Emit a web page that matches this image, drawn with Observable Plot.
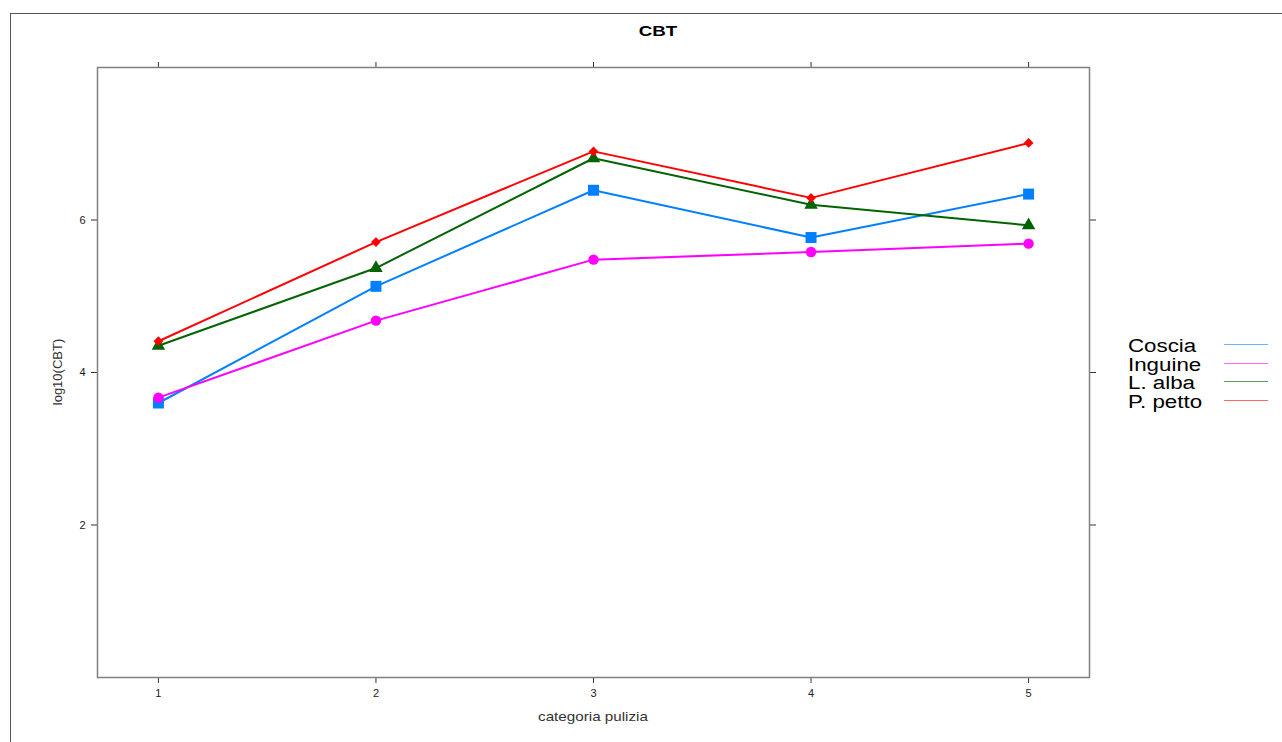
<!DOCTYPE html>
<html>
<head>
<meta charset="utf-8">
<script src="https://cdn.jsdelivr.net/npm/d3@7"></script>
<script src="https://cdn.jsdelivr.net/npm/@observablehq/plot@0.6"></script>
<style>
  html, body { margin: 0; padding: 0; background: #fff; overflow: hidden; }
  #wrap { position: relative; width: 1282px; height: 742px; font-family: "Liberation Sans", Arial, sans-serif; }
  #border { position: absolute; left: 10px; top: 13px; width: 1400px; height: 900px; border: 1.5px solid #555; box-sizing: border-box; }
  #title { position: absolute; left: 558px; width: 200px; top: 22px; text-align: center; font-weight: bold; font-size: 15px; color: #000; transform: scaleX(1.25); }
  #xlab { position: absolute; left: 493px; width: 200px; top: 709px; text-align: center; font-size: 13px; color: #333; transform: scaleX(1.17); }
  #ylab { position: absolute; left: 57px; top: 372px; font-size: 13px; color: #333; transform: translate(-50%, -50%) rotate(-90deg); white-space: nowrap; }
  #legend { position: absolute; left: 1128px; top: 337px; font-size: 18px; line-height: 18.7px; color: #000; }
  #legend .row { height: 18.7px; white-space: nowrap; transform: scaleX(1.24); transform-origin: left center; }
  .sw { position: absolute; left: 1224px; width: 44px; height: 1px; }
  #chart { position: absolute; left: 0; top: 0; }
</style>
</head>
<body>
<div id="wrap">
  <div id="border"></div>
  <div id="chart"></div>
  <div id="title">CBT</div>
  <div id="xlab">categoria pulizia</div>
  <div id="ylab">log10(CBT)</div>
  <div id="legend"></div>
</div>
<script>
const categories = [1, 2, 3, 4, 5];
const seriesNames = ["Coscia", "Inguine", "L. alba", "P. petto"];
const coscia = [3.60, 5.13, 6.39, 5.77, 6.34];
const inguine = [3.67, 4.68, 5.48, 5.58, 5.69];
const lAlba = [4.35, 5.37, 6.81, 6.20, 5.93];
const pPetto = [4.41, 5.71, 6.90, 6.29, 7.01];
const seriesColors = ["#0080ff", "#ff00ff", "#006400", "#ff0000"];
const legendColors = ["#6ab4ff", "#ff66ff", "#5a9a5a", "#ff6666"];
const seriesSymbols = ["square", "circle", "triangle", "diamond2"];
const seriesR = [6.2, 5.2, 5.0, 4.4];
const yTicks = [2, 4, 6];

const values = [coscia, inguine, lAlba, pPetto];
const rows = [];
seriesNames.forEach((s, i) => categories.forEach((c, j) => rows.push({series: s, cat: c, val: values[i][j]})));

const fmt = d3.format("d");
const marks = [
  Plot.axisX({anchor: "bottom", ticks: categories, tickSize: 6, tickPadding: 6, fontSize: 11, tickFormat: fmt, label: null, stroke: "#333", color: "#222"}),
  Plot.axisX({anchor: "top", ticks: categories, tickSize: 6, tickFormat: () => "", label: null, stroke: "#333"}),
  Plot.axisY({anchor: "left", ticks: yTicks, tickSize: 6, tickPadding: 6, fontSize: 11, tickFormat: fmt, label: null, stroke: "#333", color: "#222"}),
  Plot.axisY({anchor: "right", ticks: yTicks, tickSize: 6, tickFormat: () => "", label: null, stroke: "#333"}),
  Plot.frame({stroke: "#808080", strokeWidth: 1.5})
];
seriesNames.forEach((s, i) => {
  const d = rows.filter(r => r.series === s);
  marks.push(Plot.line(d, {x: "cat", y: "val", stroke: seriesColors[i], strokeWidth: 2}));
});
seriesNames.forEach((s, i) => {
  const d = rows.filter(r => r.series === s);
  marks.push(Plot.dot(d, {x: "cat", y: "val", fill: seriesColors[i], symbol: () => seriesSymbols[i], r: seriesR[i], stroke: "none"}));
});

const chart = Plot.plot({
  width: 1282,
  height: 742,
  marginLeft: 97,
  marginRight: 193,
  marginTop: 67,
  marginBottom: 65,
  x: {domain: [0.72, 5.28]},
  y: {domain: [0, 8]},
  symbol: {type: "identity"},
  style: {background: "transparent", fontFamily: "Liberation Sans, Arial, sans-serif"},
  marks
});
document.getElementById("chart").appendChild(chart);

const leg = document.getElementById("legend");
const wrap = document.getElementById("wrap");
const swTops = [344, 363, 381, 400];
seriesNames.forEach((s, i) => {
  const row = document.createElement("div");
  row.className = "row";
  row.textContent = s;
  leg.appendChild(row);
  const sw = document.createElement("div");
  sw.className = "sw";
  sw.style.top = swTops[i] + "px";
  sw.style.background = legendColors[i];
  wrap.appendChild(sw);
});
</script>
</body>
</html>
